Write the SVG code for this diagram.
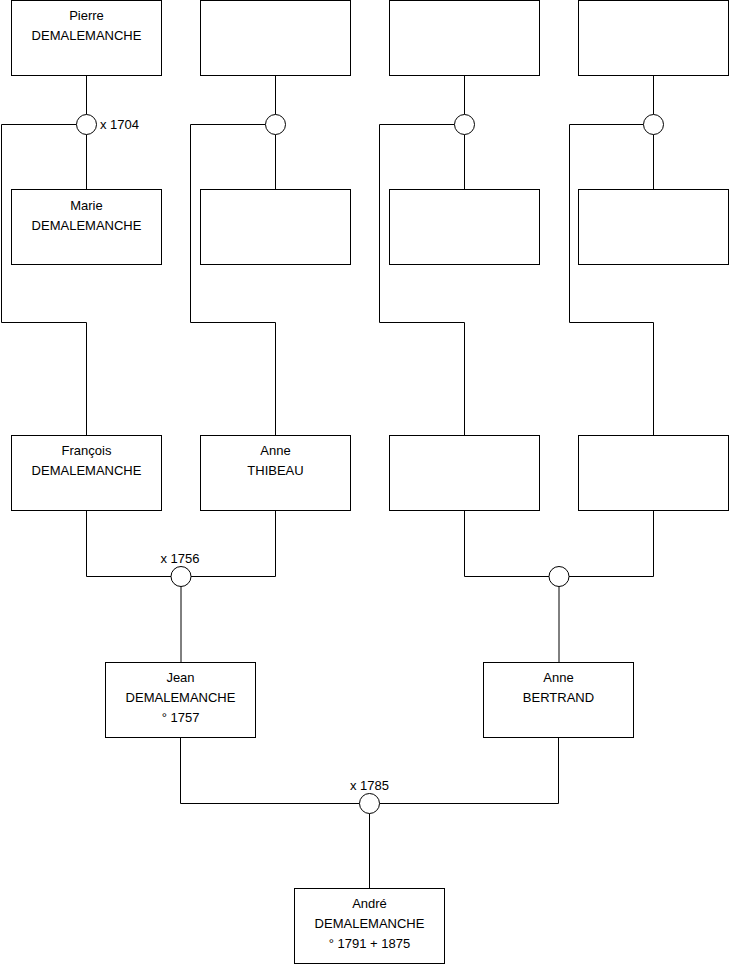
<svg xmlns="http://www.w3.org/2000/svg" width="740" height="975" viewBox="0 0 740 975">
<style>
.box{fill:#fff;stroke:#000;stroke-width:1}
.c{fill:#fff;stroke:#000;stroke-width:1}
.ln{fill:none;stroke:#000;stroke-width:1}
text{font-family:"Liberation Sans",Arial,sans-serif;font-size:13px;fill:#000}
.m{text-anchor:middle}
</style>
<rect width="740" height="975" fill="#fff"/>
<g id="connectors">
<path class="ln" d="M86.5 75.5V114.5M86.5 134.5V189.5M76.5 124.5H1.5V322.5H86.5V435.5"/>
<path class="ln" d="M275.5 75.5V114.5M275.5 134.5V189.5M265.5 124.5H190.5V322.5H275.5V435.5"/>
<path class="ln" d="M464.5 75.5V114.5M464.5 134.5V189.5M454.5 124.5H379.5V322.5H464.5V435.5"/>
<path class="ln" d="M653.5 75.5V114.5M653.5 134.5V189.5M643.5 124.5H569.5V322.5H653.5V435.5"/>
<path class="ln" d="M86.5 510.5V576.5H171M275.5 510.5V576.5H191M181 586.5V662.5"/>
<path class="ln" d="M464.5 510.5V576.5H549M653.5 510.5V576.5H569M559 586.5V662.5"/>
<path class="ln" d="M180.5 737.5V803.5H359.5M558.5 737.5V803.5H379.5M369.5 813.5V888.5"/>
</g>
<g id="u1704"><circle class="c" cx="86.5" cy="124.5" r="10"/><text x="100" y="129">x 1704</text></g>
<g id="u2"><circle class="c" cx="275.5" cy="124.5" r="10"/></g>
<g id="u3"><circle class="c" cx="464.5" cy="124.5" r="10"/></g>
<g id="u4"><circle class="c" cx="653.5" cy="124.5" r="10"/></g>
<g id="u1756"><circle class="c" cx="181" cy="576.5" r="10"/><text class="m" x="180" y="563">x 1756</text></g>
<g id="u5"><circle class="c" cx="559" cy="576.5" r="10"/></g>
<g id="u1785"><circle class="c" cx="369.5" cy="803.5" r="10"/><text class="m" x="369.5" y="790">x 1785</text></g>
<g id="pierre"><rect class="box" x="11.5" y="0.5" width="150" height="75"/><text class="m" x="86.5" y="20">Pierre</text><text class="m" x="86.5" y="40">DEMALEMANCHE</text></g>
<g id="n2"><rect class="box" x="200.5" y="0.5" width="150" height="75"/></g>
<g id="n3"><rect class="box" x="389.5" y="0.5" width="150" height="75"/></g>
<g id="n4"><rect class="box" x="578.5" y="0.5" width="150" height="75"/></g>
<g id="marie"><rect class="box" x="11.5" y="189.5" width="150" height="75"/><text class="m" x="86.5" y="210">Marie</text><text class="m" x="86.5" y="230">DEMALEMANCHE</text></g>
<g id="n6"><rect class="box" x="200.5" y="189.5" width="150" height="75"/></g>
<g id="n7"><rect class="box" x="389.5" y="189.5" width="150" height="75"/></g>
<g id="n8"><rect class="box" x="578.5" y="189.5" width="150" height="75"/></g>
<g id="francois"><rect class="box" x="11.5" y="435.5" width="150" height="75"/><text class="m" x="86.5" y="455">François</text><text class="m" x="86.5" y="475">DEMALEMANCHE</text></g>
<g id="anneT"><rect class="box" x="200.5" y="435.5" width="150" height="75"/><text class="m" x="275.5" y="455">Anne</text><text class="m" x="275.5" y="475">THIBEAU</text></g>
<g id="n11"><rect class="box" x="389.5" y="435.5" width="150" height="75"/></g>
<g id="n12"><rect class="box" x="578.5" y="435.5" width="150" height="75"/></g>
<g id="jean"><rect class="box" x="105.5" y="662.5" width="150" height="75"/><text class="m" x="180.5" y="682">Jean</text><text class="m" x="180.5" y="702">DEMALEMANCHE</text><text class="m" x="180.5" y="722">° 1757</text></g>
<g id="anneB"><rect class="box" x="483.5" y="662.5" width="150" height="75"/><text class="m" x="558.5" y="682">Anne</text><text class="m" x="558.5" y="702">BERTRAND</text></g>
<g id="andre"><rect class="box" x="294.5" y="888.5" width="150" height="75"/><text class="m" x="369.5" y="908">André</text><text class="m" x="369.5" y="928">DEMALEMANCHE</text><text class="m" x="369.5" y="948">° 1791 + 1875</text></g>
</svg>
